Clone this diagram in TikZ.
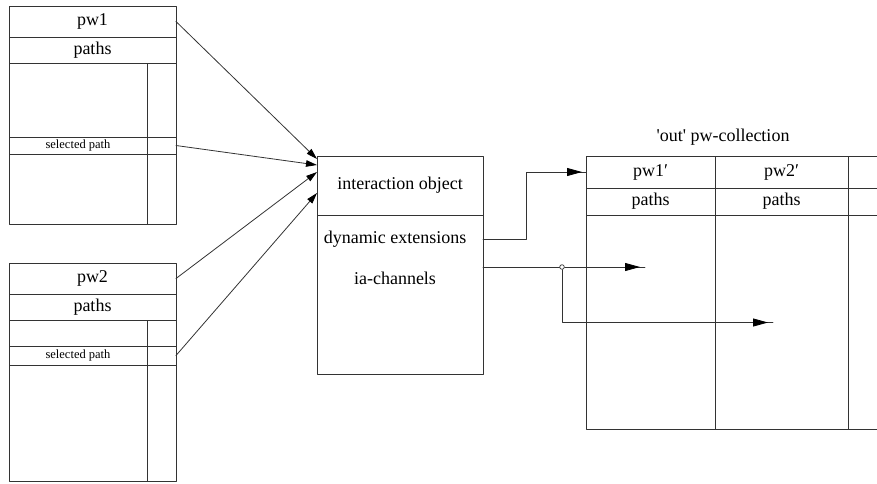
\documentclass[tikz,border=0pt]{standalone}
\usepackage{fontspec}
\setmainfont{Liberation Serif}
\usetikzlibrary{arrows.meta,decorations.markings}

\tikzset{
  cell/.style={draw=black!80,line width=0.8pt,anchor=north west,inner sep=0pt,outer sep=0pt,
    font=\fontsize{18}{20}\selectfont},
  txt/.style={inner sep=1pt,font=\fontsize{18}{20}\selectfont},
  small/.style={font=\fontsize{12.5}{14}\selectfont},
  link/.style={draw=black!80,line width=0.8pt},
  dot/.style={circle,draw=black!80,line width=0.7pt,fill=white,inner sep=0pt,minimum size=4.6pt},
  intip/.style={-{Triangle[length=11pt,width=6.5pt,color=black]}},
  tipnear/.style={postaction={decorate},decoration={markings,
    mark=at position #1 with {\arrow{Triangle[length=15pt,width=8pt,color=black]}}}}
}

\begin{document}
\begin{tikzpicture}[x=1pt,y=-1pt,line cap=round,line join=round]
  \useasboundingbox (0,0) rectangle (877,483);
  \clip (0,0) rectangle (877,483);
  % the two path windows on the left
  \foreach \n/\top/\lh/\sh/\rh in {1/6/74/17/70,2/263/26/19/116}{
    \node[cell,minimum width=167pt,minimum height=31pt] (pw\n) at (9,\top) {pw\n};
    \node[cell,minimum width=167pt,minimum height=26pt] (paths\n) at (9,\top+31) {paths};
    \node[cell,minimum width=138pt,minimum height=\lh*1pt] (list\n) at (9,\top+57) {};
    \node[cell,minimum width=29pt,minimum height=\lh*1pt] (listr\n) at (147,\top+57) {};
    \node[cell,small,minimum width=138pt,minimum height=\sh*1pt] (sel\n) at (9,\top+57+\lh) {selected path};
    \node[cell,minimum width=29pt,minimum height=\sh*1pt] (selr\n) at (147,\top+57+\lh) {};
    \node[cell,minimum width=138pt,minimum height=\rh*1pt] (rest\n) at (9,\top+57+\lh+\sh) {};
    \node[cell,minimum width=29pt,minimum height=\rh*1pt] (restr\n) at (147,\top+57+\lh+\sh) {};
  }
  % interaction object
  \node[cell,minimum width=166pt,minimum height=59pt] (io) at (317,156) {interaction object};
  \node[cell,minimum width=166pt,minimum height=159pt] (iobody) at (317,215) {};
  \node[txt] (dynext) at (395,239) {dynamic extensions};
  \node[txt] (iach) at (395,278) {ia-channels};
  % 'out' pw-collection
  \node[txt] (coll) at (723,137) {\textquotesingle out\textquotesingle{} pw-collection};
  \foreach \c/\x/\w/\lab/\sub in {a/586/129/pw1′/paths,b/715/133/pw2′/paths,c/848/133/{}/{}}{
    \node[cell,minimum width=\w*1pt,minimum height=32pt] (head\c) at (\x,156) {\lab};
    \node[cell,minimum width=\w*1pt,minimum height=27pt] (paths\c) at (\x,188) {\sub};
    \node[cell,minimum width=\w*1pt,minimum height=214pt] (body\c) at (\x,215) {};
  }
  % connectors
  \draw[link,intip] (pw1.east) -- ([yshift=-3pt]io.north west);
  \draw[link,intip] (selr1.east) -- ([yshift=-9pt]io.north west);
  \draw[link,intip] (pw2.east) -- ([yshift=-16pt]io.north west);
  \draw[link,intip] (selr2.east) -- ([yshift=-37pt]io.north west);
  \draw[link,tipnear=-4pt] (iobody.east |- dynext) -- ++(43,0) |- (heada.west);
  \coordinate (iaout) at (483,267);
  \coordinate (tipa) at (645,267);
  \coordinate (tipb) at (773,322.5);
  \node[dot] (jn) at (562,267) {};
  \draw[link] (iaout) -- (jn.west);
  \draw[link,tipnear=-5pt] (jn.east) -- (tipa);
  \draw[link,tipnear=-5pt] (jn.south) |- (tipb);
\end{tikzpicture}
\end{document}
